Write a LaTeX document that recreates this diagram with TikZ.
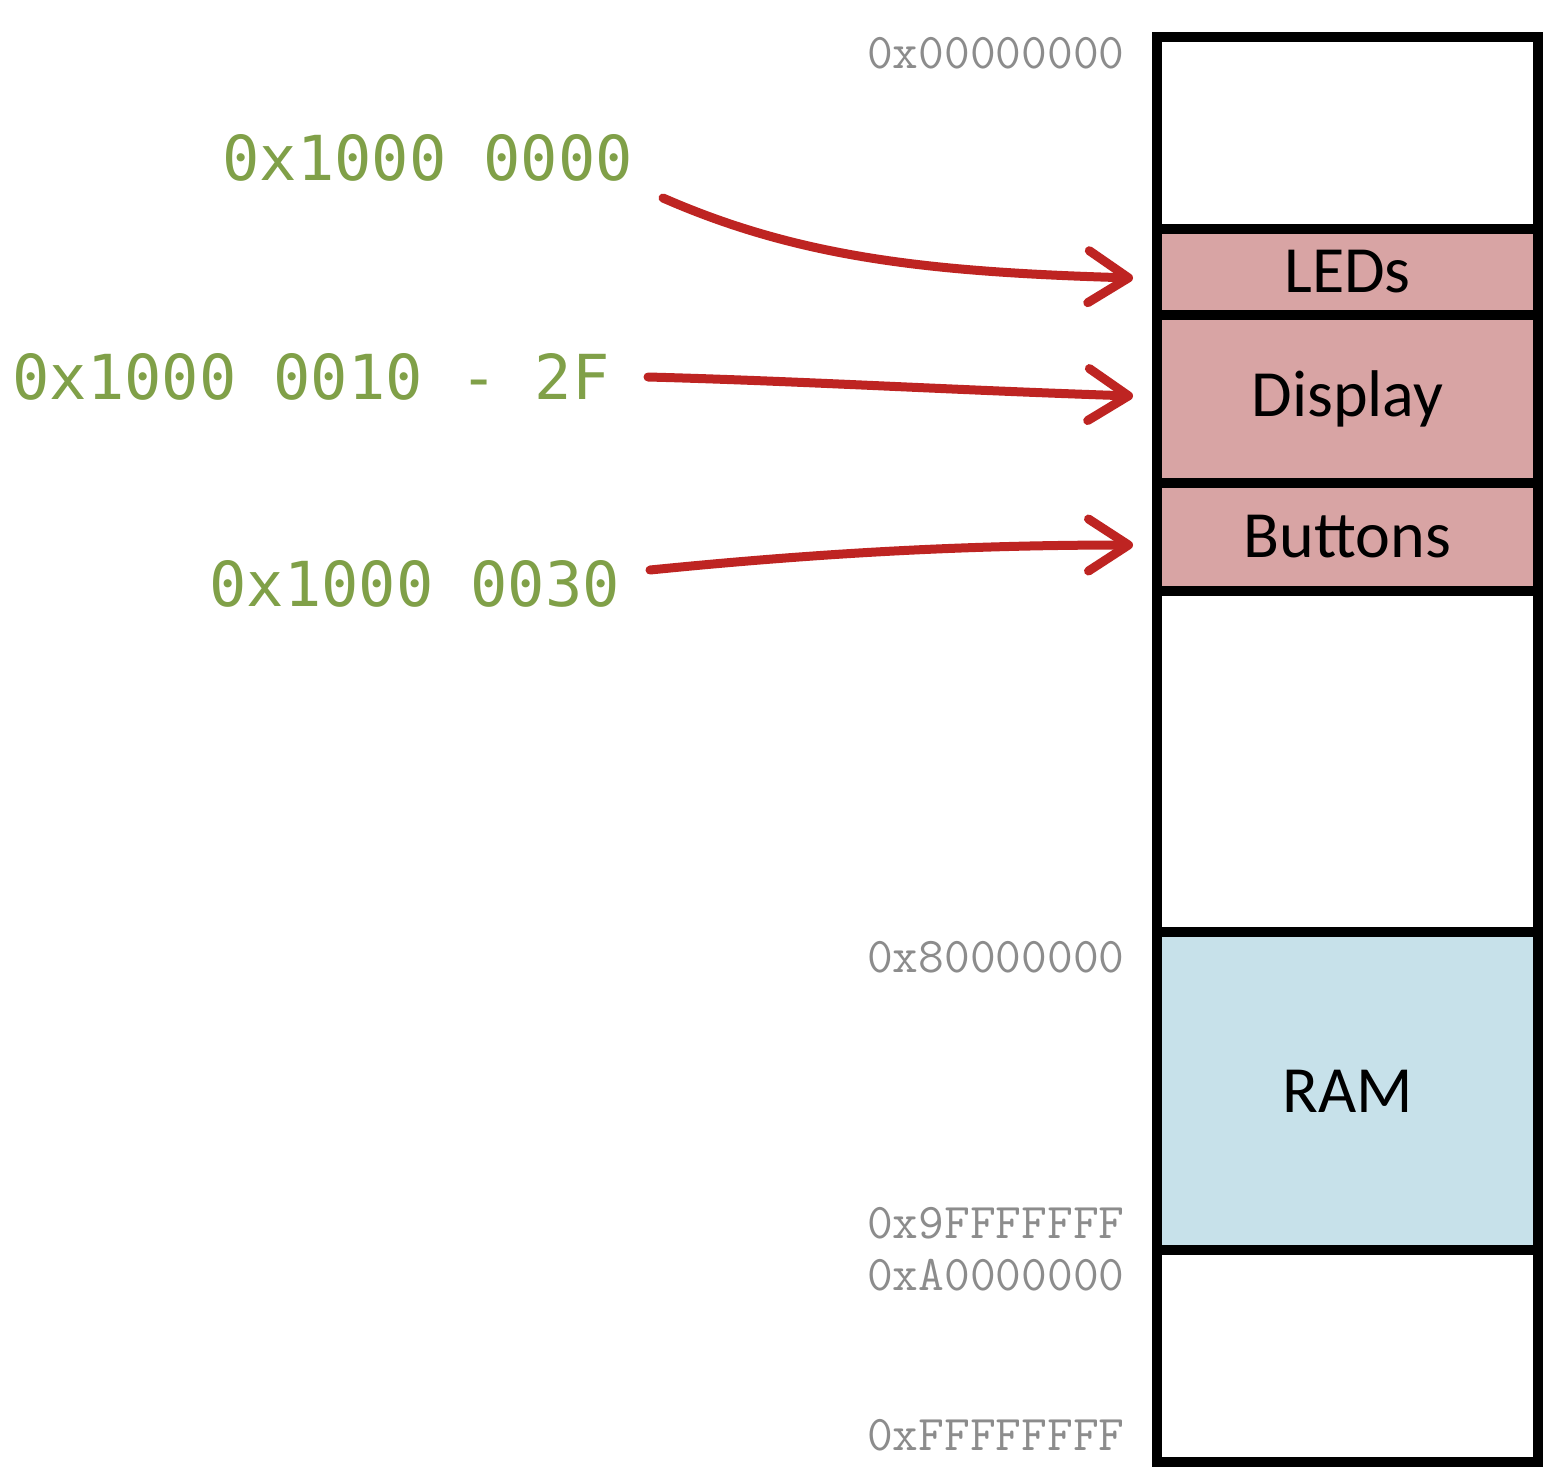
\documentclass[tikz,border=0pt]{standalone}
\usepackage{fontspec}
\usetikzlibrary{arrows.meta}
\newfontfamily\boxfont{Carlito}
\newfontfamily\greenfont{DejaVu Sans Mono}
\definecolor{pinkfill}{RGB}{216,164,164}
\definecolor{bluefill}{RGB}{199,225,234}
\definecolor{addrgray}{RGB}{140,140,140}
\definecolor{addrgreen}{RGB}{128,160,72}
\definecolor{arrowred}{RGB}{190,36,34}
\tikzset{
  region/.style={draw=black, line width=5pt, outer sep=0pt, inner sep=0pt,
    minimum width=190.5pt, font=\boxfont\fontsize{33}{36}\selectfont, text=black},
  addr/.style={anchor=base east, inner sep=0pt, text=addrgray,
    font=\ttfamily\fontsize{25}{27}\selectfont},
  glabel/.style={anchor=base west, inner sep=0pt, text=addrgreen,
    font=\greenfont\fontsize{31}{34}\selectfont},
  maparrow/.style={draw=arrowred, line width=4.5pt, line cap=round,
    -{Straight Barb[length=20pt, width=26pt, line cap=round, line join=round]}}
}
\begin{document}
\begin{tikzpicture}[x=0.5pt, y=-0.5pt]
\useasboundingbox[fill=white] (0,0) rectangle (1562,1478);
% memory column
\node[region, minimum height=96pt, fill=white] (top) at (1347.5,133) {};
\node[region, minimum height=43pt, fill=pinkfill] (leds) at (1347.5,272) {\raisebox{-1pt}{LEDs}};
\node[region, minimum height=84pt, fill=pinkfill] (disp) at (1347.5,399) {\raisebox{-2.5pt}{Display}};
\node[region, minimum height=54pt, fill=pinkfill] (btn) at (1347.5,537) {\raisebox{-2pt}{Buttons}};
\node[region, minimum height=170.5pt, fill=white] (gap) at (1347.5,761.5) {};
\node[region, minimum height=159pt, fill=bluefill] (ram) at (1347.5,1091) {RAM};
\node[region, minimum height=106pt, fill=white] (bot) at (1347.5,1356) {};
% address labels
\node[addr] (a0) at (1125,68) {0x00000000};
\node[addr] (a8) at (1125,972) {0x80000000};
\node[addr] (a9) at (1125,1238) {0x9FFFFFFF};
\node[addr] (aA) at (1125,1290) {0xA0000000};
\node[addr] (aF) at (1125,1450) {0xFFFFFFFF};
% green labels
\node[glabel] (g1) at (222,180) {0x1000 0000};
\node[glabel] (g2) at (12,399) {0x1000 0010 - 2F};
\node[glabel] (g3) at (209,606) {0x1000 0030};
% arrows
\coordinate (s1) at (663,198);
\coordinate (s2) at (648,377);
\coordinate (s3) at (650,570);
\coordinate (e1) at ([xshift=-12pt,yshift=-3pt]leds.west);
\coordinate (e2) at ([xshift=-12pt,yshift=1.5pt]disp.west);
\coordinate (e3) at ([xshift=-12pt,yshift=-4pt]btn.west);
\draw[maparrow] (s1) .. controls (800,258) and (930,272) .. (e1);
\draw[maparrow] (s2) .. controls (800,381) and (950,390) .. (e2);
\draw[maparrow] (s3) .. controls (800,555) and (950,545) .. (e3);
\end{tikzpicture}
\end{document}
